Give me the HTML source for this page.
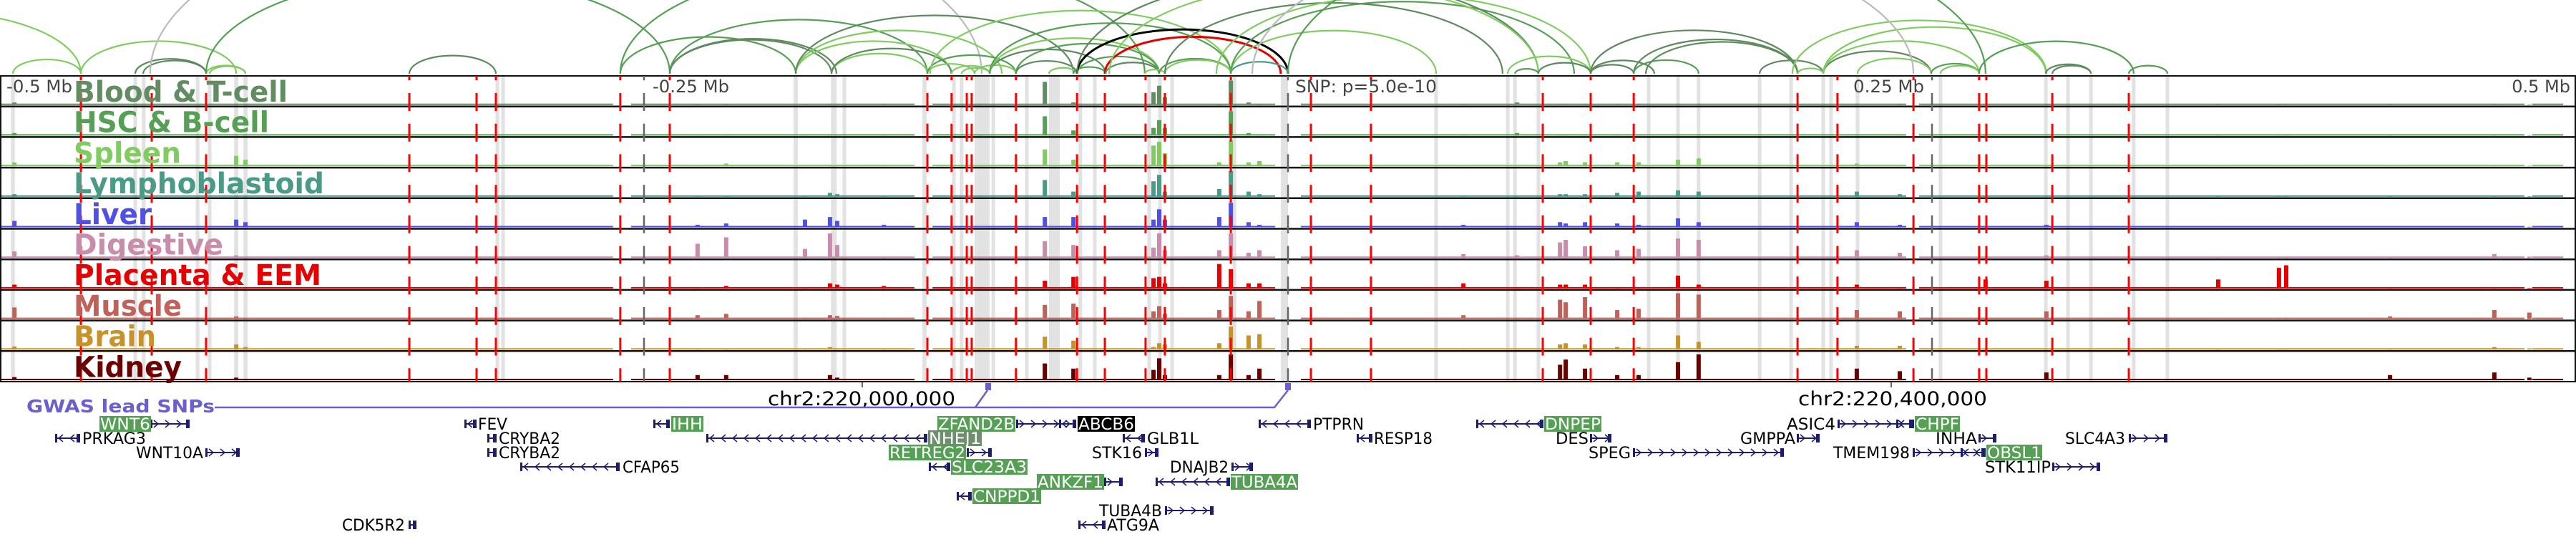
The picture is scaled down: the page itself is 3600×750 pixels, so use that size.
<!DOCTYPE html>
<html><head><meta charset="utf-8"><title>Genome browser chr2</title>
<style>
html,body{margin:0;padding:0;background:#fff;}
svg{display:block;font-family:"DejaVu Sans","Liberation Sans",sans-serif;}
</style></head>
<body>
<svg id="chart" width="3600" height="750" viewBox="0 0 3600 750" xmlns="http://www.w3.org/2000/svg">
  <g id="arcs"></g>
  <g id="bands"></g>
  <g id="signals"></g>
  <g id="frame"></g>
  <g id="vlines"></g>
  <g id="labels"></g>
  <text x="9" y="129" font-size="24" fill="#444" textLength="92" lengthAdjust="spacingAndGlyphs">-0.5 Mb</text>
  <text x="912" y="129" font-size="24" fill="#444" textLength="107" lengthAdjust="spacingAndGlyphs">-0.25 Mb</text>
  <text x="1810" y="129" font-size="24" fill="#444" textLength="198" lengthAdjust="spacingAndGlyphs">SNP: p=5.0e-10</text>
  <text x="2590" y="129" font-size="24" fill="#444" textLength="99" lengthAdjust="spacingAndGlyphs">0.25 Mb</text>
  <text x="3592" y="129" font-size="24" fill="#444" text-anchor="end">0.5 Mb</text>
  <g>
    <line x1="1205" y1="533" x2="1205" y2="541" stroke="#333" stroke-width="1.5"/>
    <line x1="2643" y1="533" x2="2643" y2="541" stroke="#333" stroke-width="1.5"/>
    <text x="1073" y="566" font-size="27" fill="#000" textLength="262" lengthAdjust="spacingAndGlyphs">chr2:220,000,000</text>
    <text x="2513" y="566" font-size="27" fill="#000" textLength="264" lengthAdjust="spacingAndGlyphs">chr2:220,400,000</text>
  </g>
  <g>
    <text x="37" y="576" font-size="25" font-weight="bold" fill="#6a5fd0" textLength="263" lengthAdjust="spacingAndGlyphs">GWAS lead SNPs</text>
    <polyline points="300,569 1781,569 1800,545" fill="none" stroke="#6a5fd0" stroke-width="2.5"/>
    <polyline points="1363,569 1380,545" fill="none" stroke="#6a5fd0" stroke-width="2.5"/>
    <rect x="1377" y="535" width="8" height="10" fill="#6a5fd0"/>
    <rect x="1796" y="535" width="8" height="10" fill="#6a5fd0"/>
  </g>
  <g id="genes"></g>
</svg>
<script>
// ---- data ----
const trackNames = ["Blood & T-cell","HSC & B-cell","Spleen","Lymphoblastoid","Liver","Digestive","Placenta & EEM","Muscle","Brain","Kidney"];
const trackColors = ["#628c62","#55a055","#80cc60","#4a9a88","#5050e8","#c98cab","#e60000","#c0625a","#c8922a","#6b0000"];
const labelWidths = [299,273,150,350,109,209,346,151,115,151];
const peakPos = [-494.4,-408.3,-404.7,-229.2,-218.1,-187.5,-177.8,-175,-94.4,-83.3,-52.2,-50,-47.8,-26.7,-22.2,-15.3,-11.1,68.1,88.9,105.6,107.8,115.3,127.8,136.1,151.4,159.4,220.8,237.5,270.8,294.4,361.1,384.7,387.5,427.8,468.3,481.9,-119.4,-156.9];
const hBlood = [.1,.05,.02,.02,.03,.03,.05,.05,.9,.1,.5,.75,.3,.02,.95,.1,.05,.02,.1,.05,.05,.05,.02,.02,.05,.05,.05,.05,.02,.02,.02,.02,.02,.02,.02,.02,.05,.05];
const hHsc = [.1,.05,.02,.02,.02,.05,.05,.03,.75,.2,.3,.6,.3,.05,.95,.1,.05,.02,.1,.05,.05,.05,.05,.02,.05,.05,.05,.05,.02,.05,.02,.02,.02,.02,.02,.02,.02,.05];
const hSpleen = [.15,.4,.25,.02,.1,.02,.05,.03,.65,.25,.8,.95,.5,.15,1,.15,.2,.02,.05,.15,.2,.15,.15,.15,.25,.3,.1,.05,.02,.05,.02,.02,.02,.02,.02,.02,.05,.05];
const hLymph = [.1,.05,.02,.02,.05,.02,.15,.1,.65,.2,.6,.85,.2,.3,1,.2,.1,.02,.05,.1,.1,.1,.15,.2,.25,.2,.2,.1,.02,.05,.05,.02,.02,.02,.02,.02,.02,.05];
const hLiver = [.25,.3,.2,.1,.15,.3,.4,.25,.4,.4,.3,.7,.3,.4,.95,.2,.1,.1,.05,.2,.15,.2,.15,.1,.35,.2,.2,.1,.05,.1,.05,.05,.05,.02,.02,.02,.05,.1];
const hDigest = [.25,.1,.05,.55,.8,.35,.95,.5,.65,.5,.4,.95,.3,.3,.95,.2,.3,.15,.1,.6,.7,.45,.3,.35,.75,.7,.3,.2,.05,.1,.05,.05,.05,.05,.15,.05,.05,.05];
const hPlacenta = [.15,.05,.02,.05,.1,.02,.2,.15,.3,.45,.4,.45,.2,.95,.75,.2,.2,.2,.05,.15,.15,.15,.05,.05,.5,.15,.15,.05,.35,.3,.35,.8,.9,.05,.02,.02,.05,.1];
const hMuscle = [.45,.1,.05,.15,.2,.05,.15,.12,.55,.6,.3,.5,.2,.35,.9,.3,.7,.15,.05,.75,.65,.85,.35,.4,1,.95,.35,.3,.05,.3,.05,.05,.05,.1,.35,.25,.05,.05];
const hBrain = [.12,.2,.1,.05,.05,.02,.1,.05,.5,.35,.1,.25,.2,.25,.9,.55,.6,.02,.05,.2,.25,.2,.1,.1,.55,.3,.15,.15,.02,.05,.02,.02,.02,.02,.1,.05,.02,.05];
const hKidney = [.12,.1,.05,.2,.2,.05,.2,.1,.65,.45,.4,.85,.2,.2,1,.2,.45,.05,.05,.6,.8,.45,.2,.2,.7,1,.45,.35,.05,.3,.05,.05,.05,.2,.3,.1,.05,.05];
const trackHeights = [hBlood,hHsc,hSpleen,hLymph,hLiver,hDigest,hPlacenta,hMuscle,hBrain,hKidney];
const coverageStart = [-500,-255,-138,5,245,483];
const coverageEnd = [-262,-145,-5,240,480,495];
const redLines = [-468.6,-441.1,-420,-341.1,-315,-307.5,-259.2,-240,-140,-130.6,-124.7,-122.8,-105.6,-81.9,-71.1,-55.3,-47.8,-22.2,8.9,32.2,98.9,117.5,134.2,197.8,213.3,242.8,268.3,271.1,296.7,326.4];
const grayLines = [-250,0,250];
const bandCenters = [-495,-447.5,-444.2,-423.3,-418.6,-408.3,-404.7,-306.9,-304.7,-191.1,-176.3,-172.2,-141.1,-129.7,-126.7,-118.75,-114.4,-101.4,-90.7,-80.6,-75,-53.9,-49.7,-45,-20.8,-1.4,57.5,85.3,88.1,97.2,140,151.4,159.4,183.1,195.3,207.8,210.8,221.1,253.3,294.2,302.8,311.7,328.3,341.4];
const bandWidths = [1.5,1.4,1.4,1.4,1.4,1.6,1.6,1.4,1.4,1.6,2.2,1.4,1.6,1.4,1.4,5.8,1.4,1.4,4.2,1.4,1.4,1.4,1.4,1.4,1.4,2.8,1.4,1.4,1.4,1.4,1.4,1.4,1.4,1.4,1.4,1.4,1.4,1.4,1.4,1.4,1.4,1.4,1.4,1.4];
const arcStart = [-495,-468.6,-583,-447.5,-444.4,-420,-418.6,-341.1,-441.7,-420,-259.2,-240,-259.2,-240,-240,-191.1,-191.1,-177.2,-177.2,-191.1,-140,-140,-130.6,-126.7,-121.7,-115.8,-115.8,-105.6,-138.9,-115.8,-105.6,-92.8,-83.3,-81.9,-81.9,-71.1,-22.2,-70.8,-55.6,-50,-47.8,-22.2,-22.2,-47.8,-81.9,-69.4,-27.8,85.3,88.1,97.2,117.5,117.5,134.2,117.5,134.2,138.9,183.1,197.8,207.8,207.8,221.1,195.8,207.8,249.7,253.3,268.3,294.2,296.7,326.4,-13.9,0];
const arcEnd = [-468.6,-408.3,-468.6,-420,-420,-404.7,-404.7,-307.5,-118.9,-240,-191.1,-140,-55.6,-177.2,-175.3,-130.8,-111.1,-140,-130.6,-83.3,-121.7,-105.6,-115.8,-115.8,-105.6,-70.8,-50,-50,-22.2,-22.2,-81.9,-81.9,-70.8,-50,0,-2.8,0,-50,-47.8,-22.2,-22.2,57.5,111.1,83.3,97.2,97.2,117.5,117.5,97.2,117.5,134.2,142.2,159.4,197.8,197.8,197.8,207.8,207.8,249.7,268.3,249.7,294.4,294.2,268.3,268.3,328.3,311.7,311.7,341.4,242.8,270.8];
const arcColorKeys = "cccaaccagbbbbaacccaacbcccacbcbacbbkrtacbccbaacccbaaabaaaacaccccbcbaabgb";
const arcPalette = {a:"#5f8a5f",b:"#55a055",c:"#80cc60",g:"#bbbbbb",t:"#4a9a88",k:"#000000",r:"#e00000"};

// ---- axes ----
const X0 = 1800, PXPERKB = 3.6;
function x(kb){ return X0 + kb*PXPERKB; }
const FRAME_TOP = 106, TRACK_H = 42.7, NT = 10, BAR_MAX = 36, ARC_BASE = 103;
function trackTop(i){ return FRAME_TOP + i*TRACK_H; }
function yBar(i, v){ return trackTop(i) + TRACK_H - 2 - v*BAR_MAX; }
const NS = "http://www.w3.org/2000/svg";
function mk(tag, attrs, parent){ const e=document.createElementNS(NS,tag); for(const k in attrs) e.setAttribute(k,attrs[k]); parent.appendChild(e); return e; }

// arcs
const gArcs = document.getElementById('arcs');
for(let i=0;i<arcStart.length;i++){
  const x1=x(arcStart[i]), x2=x(arcEnd[i]);
  const rx=(x2-x1)/2, ry=rx*0.42;
  const col=arcPalette[arcColorKeys[i]]||"#55a055";
  const p=mk('path',{d:`M${x1},${ARC_BASE} A${rx},${ry} 0 0 1 ${x2},${ARC_BASE}`,fill:'none',stroke:col,'stroke-width':(col==="#000000"||col==="#e00000")?3:2.2},gArcs);
  
  
}

// bands
const gBands = document.getElementById('bands');
for(let i=0;i<bandCenters.length;i++){
  const w=bandWidths[i]*PXPERKB;
  const r=mk('rect',{x:x(bandCenters[i])-w/2,y:FRAME_TOP,width:w,height:TRACK_H*NT,fill:'#e2e2e2'},gBands);
  
  
}

// signals
const gSig = document.getElementById('signals');
for(let t=0;t<NT;t++){
  const g=mk('g',{fill:trackColors[t]},gSig);
  
  
  for(let s=0;s<coverageStart.length;s++){
    const b=mk('rect',{x:x(coverageStart[s]),y:yBar(t,0)-2,width:x(coverageEnd[s])-x(coverageStart[s]),height:2},g);
    
    
  }
  const hs=trackHeights[t];
  for(let k=0;k<peakPos.length;k++){
    const yy=yBar(t,hs[k]);
    const bar=mk('rect',{x:x(peakPos[k])-3,y:yy,width:6,height:yBar(t,0)-yy},g);
    
    
  }
}

// frame
const gFrame = document.getElementById('frame');
for(let i=1;i<NT;i++){
  const l=mk('line',{x1:0,x2:3600,y1:trackTop(i),y2:trackTop(i),stroke:'#111','stroke-width':2.5},gFrame);
  
  
}
const fr=mk('rect',{x:1,y:FRAME_TOP,width:3598,height:TRACK_H*NT,fill:'none',stroke:'#111','stroke-width':2},gFrame);



// vertical lines
const gV = document.getElementById('vlines');
for(const kb of grayLines){
  const l=mk('line',{x1:x(kb),x2:x(kb),y1:FRAME_TOP,y2:FRAME_TOP+TRACK_H*NT,stroke:'#666','stroke-width':2.5,'stroke-dasharray':'25 17.7','stroke-dashoffset':18.7},gV);
  
  
}
for(const kb of redLines){
  const l=mk('line',{x1:x(kb),x2:x(kb),y1:FRAME_TOP,y2:FRAME_TOP+TRACK_H*NT,stroke:'#ff0000','stroke-width':3,'stroke-dasharray':'25 17.7','stroke-dashoffset':18.7},gV);
  
  
}

// labels
const gLab = document.getElementById('labels');
for(let t=0;t<NT;t++){
  const tx=mk('text',{x:103,y:trackTop(t)+36,'font-size':40,'font-weight':'bold',fill:trackColors[t],textLength:labelWidths[t],lengthAdjust:'spacingAndGlyphs'},gLab);
  tx.textContent=trackNames[t];
  
  
}

// genes: name, labelX0, labelX1, row, geneX0, geneX1, dir, style
const genes = [
 ["WNT6",140,210,0,210,265,1,1],["PRKAG3",115,204,1,77,112,-1,0],["WNT10A",190,284,2,287,335,1,0],
 ["FEV",668,709,0,649,666,-1,0],["CRYBA2",697,783,1,681,694,-1,0],["CRYBA2",697,783,2,681,694,-1,0],
 ["CFAP65",870,950,3,727,866,-1,0],["IHH",939,982,0,913,936,-1,1],["CDK5R2",478,566,7,571,582,1,0],
 ["ZFAND2B",1311,1418,0,1420,1504,1,1],["ABCB6",1507,1585,0,1480,1504,-1,2],["NHEJ1",1298,1371,1,987,1296,-1,3],
 ["GLB1L",1603,1675,1,1569,1600,-1,0],["RETREG2",1243,1349,2,1351,1386,1,1],["STK16",1526,1596,2,1600,1619,1,0],
 ["SLC23A3",1330,1435,3,1298,1328,-1,1],["DNAJB2",1635,1717,3,1721,1751,1,0],["ANKZF1",1450,1542,4,1543,1569,1,1],
 ["TUBA4A",1721,1813,4,1615,1719,-1,1],["CNPPD1",1360,1454,5,1337,1358,-1,1],["TUBA4B",1536,1624,6,1628,1696,1,0],
 ["ATG9A",1547,1620,7,1507,1545,-1,0],["PTPRN",1835,1906,0,1759,1832,-1,0],["RESP18",1920,2002,1,1896,1918,-1,0],
 ["DNPEP",2159,2237,0,2063,2157,-1,1],["DES",2174,2220,1,2222,2252,1,0],["SPEG",2220,2279,2,2282,2493,1,0],
 ["ASIC4",2497,2565,0,2568,2673,1,0],["CHPF",2677,2738,0,2650,2675,-1,1],["GMPPA",2432,2509,1,2511,2543,1,0],
 ["INHA",2705,2763,1,2765,2790,1,0],["SLC4A3",2886,2970,1,2975,3029,1,0],["TMEM198",2562,2669,2,2673,2774,1,0],
 ["OBSL1",2777,2853,2,2740,2775,-1,1],["STK11IP",2774,2866,3,2868,2935,1,0]
];
const rowY=[592,612,632,652,673,693,713,733];
const gG=document.getElementById('genes');
const styles=[[null,"#000"],["#55a055","#fff"],["#000","#fff"],["#6d8f6d","#fff"]];
for(const g of genes){
  const [nm,l0,l1,row,g0,g1,dir,st]=g;
  const y=rowY[row];
  const grp=mk('g',{},gG);
  
  
  mk('line',{x1:g0,x2:g1,y1:y,y2:y,stroke:'#1d1d70','stroke-width':2},grp);
  mk('rect',{x:g0,y:y-6,width:3,height:12,fill:'#1d1d70'},grp);
  mk('rect',{x:g1-5,y:y-6,width:5,height:12,fill:'#1d1d70'},grp);
  let d='';
  for(let cx=g0+8;cx<g1-5;cx+=16){ d+= dir>0?`M${cx-3},${y-5} L${cx+3},${y} L${cx-3},${y+5} `:`M${cx+3},${y-5} L${cx-3},${y} L${cx+3},${y+5} `; }
  if(d) mk('path',{d:d,fill:'none',stroke:'#1d1d70','stroke-width':1.5},grp);
  const s=styles[st];
  if(s[0]) mk('rect',{x:l0-1,y:y-11,width:l1-l0+2,height:22,fill:s[0]},grp);
  const tx=mk('text',{x:l0,y:y+8,'font-size':22,fill:s[1],textLength:l1-l0,lengthAdjust:'spacingAndGlyphs'},grp);
  tx.textContent=nm;
}
</script>
</body></html>
